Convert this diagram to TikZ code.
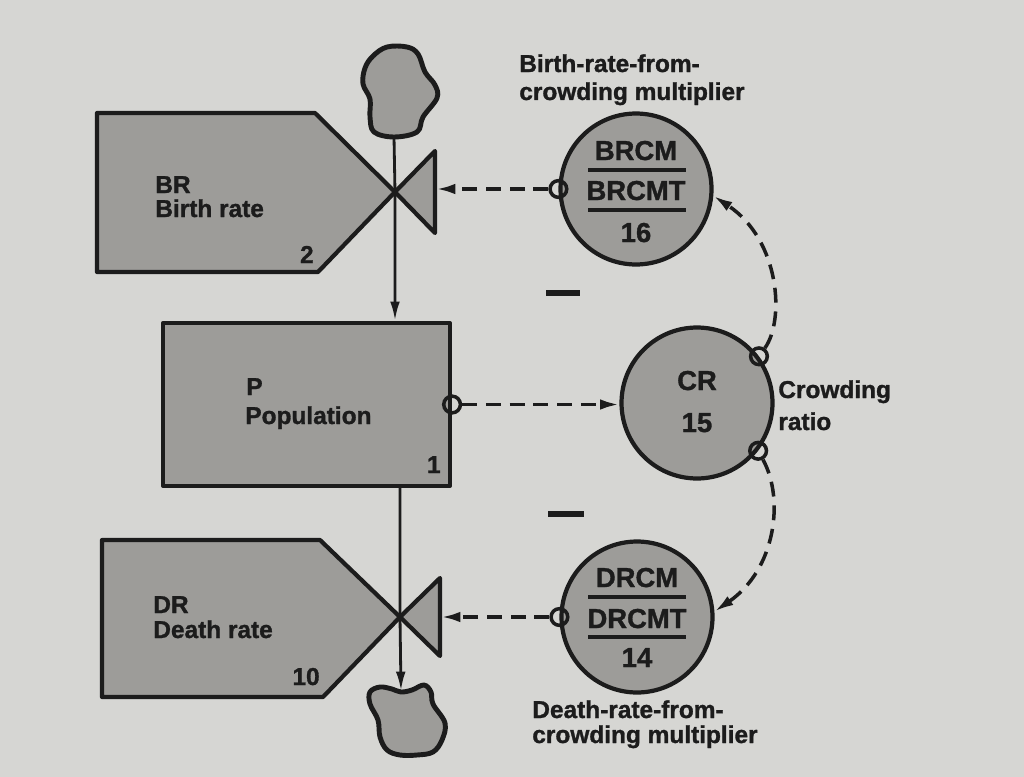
\documentclass[tikz,border=0pt]{standalone}
\usepackage{fontspec}
\setmainfont{Liberation Sans}[BoldFeatures={FakeBold=1.2}]
\usetikzlibrary{arrows.meta,calc}
\definecolor{paper}{HTML}{D6D6D3}
\definecolor{ink}{HTML}{1C1C1C}
\definecolor{fill1}{HTML}{9D9C99}

\begin{document}
\begin{tikzpicture}[x=0.02cm,y=-0.02cm,font=\fontsize{13.9}{15}\selectfont\bfseries,
  box/.style={draw=ink,fill=fill1,line width=2.4pt,line join=round},
  aux/.style={circle,draw=ink,fill=fill1,line width=2.4pt,minimum size=3.02cm,inner sep=0pt},
  big/.style={font=\fontsize{15.6}{17}\selectfont\bfseries,text=ink,anchor=base,inner sep=0pt},
  flow/.style={draw=ink,line width=1.6pt,-{Latex[length=11pt,width=5.5pt]}},
  info/.style={draw=ink,line width=2pt,dash pattern=on 8.5pt off 5pt,-{Latex[length=11pt,width=6pt]}},
  tap/.style={circle,draw=ink,line width=2pt,minimum size=9.5pt,inner sep=0pt},
  txt/.style={text=ink,anchor=base west,inner sep=0pt},
  num/.style={text=ink,anchor=base east,inner sep=0pt},
  bar/.style={draw=ink,line width=2pt}]
  \useasboundingbox (0,0) rectangle (1024,777);
  \fill[paper] (0,0) rectangle (1024,777);
  % levels and valves
  \draw[box] (97,113) -- (315,113) -- (395,192) -- (318,272) -- (97,272) -- cycle;
  \draw[box] (395,192) -- (435,151) -- (435,233) -- cycle;
  \coordinate (brv) at (395,192); \coordinate (brtri) at (436,192);
  \draw[box] (102,540) -- (320,540) -- (400,617) -- (323,697) -- (102,697) -- cycle;
  \draw[box] (400,617) -- (440,578) -- (440,656) -- cycle;
  \coordinate (drv) at (400,617); \coordinate (drtri) at (441,617);
  \node[box,minimum width=5.74cm,minimum height=3.26cm] (pop) at (306.5,404.5) {};
  % clouds
  \draw[box,line width=2.8pt] plot[smooth cycle,tension=0.6] coordinates {(394,137) (417,132) (423,117) (437,98) (435,85) (425,72) (418,54) (407,47) (387,47) (373,56) (365,68) (363,84) (370,99) (370,117) (374,132)};
  \coordinate (src) at (394,137);
  \draw[box,line width=2.8pt] plot[smooth cycle,tension=0.6] coordinates {(401,692) (412,690) (424,685) (431,692) (433,704) (445,723) (442,740) (433,752) (417,755) (400,755) (387,750) (380,737) (378,720) (370,704) (370,692) (380,687) (392,689)};
  \coordinate (snk) at (401,691);
  % flows
  \draw[flow] (src) -- (brv) -- (brv |- pop.north);
  \draw[flow] (drv |- pop.south) -- (drv) -- (snk);
  % auxiliaries
  \node[aux] (brcm) at (636,189) {};
  \node[aux] (cr) at (697,403) {};
  \node[aux] (drcm) at (637,617) {};
  \node[tap] (tbr) at (brcm.180) {};
  \node[tap] (tpop) at (pop.east) {};
  \node[tap] (tcr1) at (cr.37) {};
  \node[tap] (tcr2) at (cr.-38) {};
  \node[tap] (tdr) at (drcm.180) {};
  % information links
  \draw[info] (tbr) -- (tbr -| brtri);
  \draw[info] (tdr) -- (tdr -| drtri);
  \draw[info] (tpop) -- (tpop -| cr.west);
  \draw[info] (tcr1) .. controls (785,320) and (780,240) .. (brcm.-5);
  \draw[info] (tcr2) .. controls (785,500) and (775,570) .. (drcm.4);
  \draw[bar,line width=3pt] (546,293) -- (580,293);
  \draw[bar,line width=3pt] (548,514) -- (584,514);
  % texts
  \node[txt] at (155,193) {BR};
  \node[txt] at (155,217) {Birth rate};
  \node[num] at (314,263) {2};
  \node[txt] at (246,395) {P};
  \node[txt] at (245,424) {Population};
  \node[num] at (441,473) {1};
  \node[txt] at (153,613) {DR};
  \node[txt] at (153,638) {Death rate};
  \node[num] at (320,685) {10};
  \node[big] at (636,160) {BRCM};
  \draw[bar] (588,170) -- (686,170);
  \node[big] at (636,200) {BRCMT};
  \draw[bar] (588,210) -- (686,210);
  \node[big] at (636,242) {16};
  \node[big] at (697,390) {CR};
  \node[big] at (697,432) {15};
  \node[big] at (637,587) {DRCM};
  \draw[bar] (588,597) -- (686,597);
  \node[big] at (637,628) {DRCMT};
  \draw[bar] (588,637) -- (686,637);
  \node[big] at (637,667) {14};
  \node[txt] at (519,72) {Birth-rate-from-};
  \node[txt] at (519,100) {crowding multiplier};
  \node[txt] at (778,398) {Crowding};
  \node[txt] at (778,430) {ratio};
  \node[txt] at (532,718) {Death-rate-from-};
  \node[txt] at (532,743) {crowding multiplier};
\end{tikzpicture}
\end{document}
